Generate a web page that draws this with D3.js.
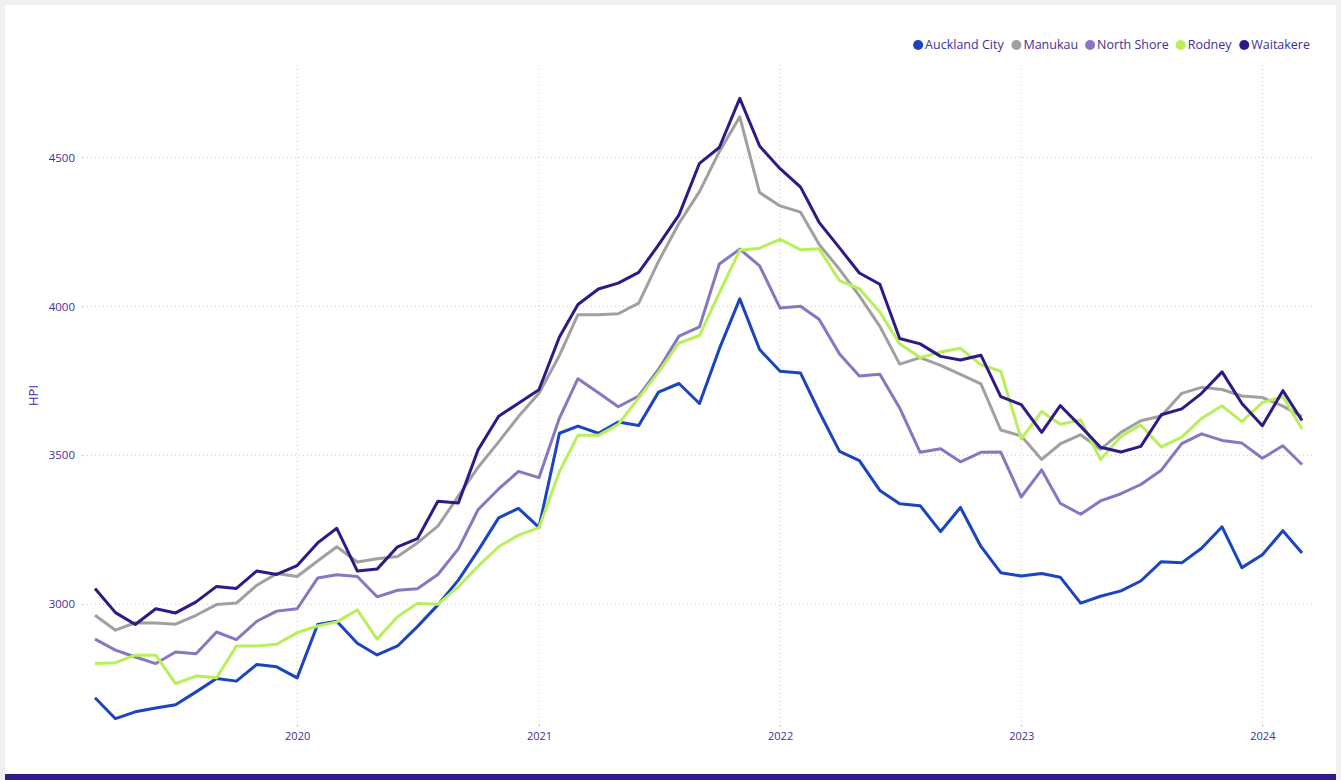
<!DOCTYPE html>
<html>
<head>
<meta charset="utf-8">
<script src="https://cdn.jsdelivr.net/npm/d3@7"></script>
<style>
  html, body { margin: 0; padding: 0; background: #f0f0f0; }
  #chart { position: absolute; left: 0; top: 0; }
  text { font-family: "Segoe UI", "Open Sans", "Noto Sans", sans-serif; }
</style>
</head>
<body>
<div id="chart"></div>
<script>
// monthly HPI, 2019-03 .. 2024-03
const startMonth = "2019-03";
const seriesNames = ["Auckland City", "Manukau", "North Shore", "Rodney", "Waitakere"];
const seriesColors = ["#1a44c0", "#a0a0a0", "#8678c0", "#b8ef5a", "#2e1a87"];
const yTicks = [3000, 3500, 4000, 4500];
const xTickYears = [2020, 2021, 2022, 2023, 2024];

const aucklandCity = [2686, 2616, 2639, 2652, 2663, 2706, 2751, 2742, 2798, 2790, 2753, 2932, 2943, 2869, 2830, 2860, 2925, 2998, 3081, 3181, 3290, 3322, 3258, 3574, 3598, 3574, 3612, 3600, 3712, 3741, 3674, 3857, 4025, 3855, 3782, 3776, 3647, 3513, 3482, 3382, 3337, 3331, 3244, 3325, 3194, 3106, 3095, 3103, 3091, 3004, 3027, 3045, 3078, 3143, 3139, 3188, 3260, 3123, 3166, 3247, 3172];
const manukau = [2963, 2913, 2938, 2937, 2933, 2963, 2999, 3004, 3064, 3103, 3093, 3145, 3193, 3142, 3153, 3160, 3206, 3262, 3363, 3460, 3545, 3630, 3708, 3835, 3972, 3972, 3975, 4011, 4151, 4279, 4385, 4519, 4636, 4382, 4337, 4316, 4208, 4124, 4035, 3933, 3806, 3828, 3802, 3772, 3740, 3585, 3565, 3486, 3538, 3569, 3520, 3577, 3616, 3632, 3708, 3728, 3721, 3699, 3694, 3665, 3630];
const northShore = [2883, 2846, 2823, 2801, 2840, 2834, 2907, 2881, 2943, 2977, 2985, 3088, 3099, 3093, 3025, 3047, 3052, 3100, 3186, 3318, 3387, 3446, 3425, 3625, 3757, 3710, 3663, 3699, 3788, 3900, 3931, 4142, 4192, 4136, 3994, 4000, 3957, 3840, 3766, 3772, 3659, 3510, 3522, 3478, 3510, 3511, 3360, 3451, 3339, 3302, 3347, 3371, 3402, 3450, 3539, 3572, 3550, 3541, 3490, 3532, 3469];
const rodney = [2801, 2804, 2829, 2829, 2734, 2759, 2753, 2860, 2860, 2866, 2905, 2927, 2941, 2981, 2883, 2958, 3003, 3000, 3059, 3128, 3193, 3232, 3257, 3445, 3567, 3567, 3604, 3693, 3779, 3877, 3902, 4045, 4188, 4195, 4225, 4190, 4193, 4086, 4059, 3981, 3874, 3828, 3847, 3859, 3804, 3782, 3555, 3647, 3604, 3619, 3486, 3563, 3602, 3528, 3561, 3624, 3666, 3613, 3677, 3697, 3588];
const waitakere = [3053, 2972, 2932, 2985, 2971, 3008, 3060, 3053, 3112, 3100, 3130, 3206, 3255, 3112, 3118, 3193, 3220, 3346, 3340, 3519, 3631, 3675, 3720, 3897, 4006, 4058, 4078, 4114, 4206, 4307, 4480, 4533, 4698, 4538, 4462, 4400, 4282, 4196, 4112, 4074, 3892, 3874, 3832, 3820, 3836, 3697, 3670, 3577, 3667, 3597, 3527, 3511, 3530, 3636, 3656, 3708, 3780, 3674, 3599, 3717, 3617];

const seriesValues = [aucklandCity, manukau, northShore, rodney, waitakere];

const W = 1341, H = 780;
const plot = { left: 83, right: 1312, top: 65, bottom: 730 };
const axisColor = "#40309a";

const start = d3.timeParse("%Y-%m")(startMonth);
const months = aucklandCity.map((_, i) => d3.timeMonth.offset(start, i));

const svg = d3.select("#chart").append("svg")
  .attr("width", W)
  .attr("height", H);

// white panel + bottom bar
svg.append("rect").attr("x", 5).attr("y", 5).attr("width", 1331).attr("height", 769).attr("fill", "#ffffff");
svg.append("rect").attr("x", 5).attr("y", 774).attr("width", 1331).attr("height", 6).attr("fill", "#311b8a");

const x = d3.scaleTime()
  .domain([months[0], months[months.length - 1]])
  .range([95, 1302]);

const y = d3.scaleLinear()
  .domain([2578, 4810])
  .range([plot.bottom, plot.top]);

// gridlines
svg.append("g")
  .selectAll("line")
  .data(yTicks)
  .join("line")
  .attr("x1", plot.left)
  .attr("x2", plot.right)
  .attr("y1", d => y(d))
  .attr("y2", d => y(d))
  .attr("stroke", "#c8c8c8")
  .attr("stroke-width", 1)
  .attr("stroke-dasharray", "1,3");

svg.append("g")
  .selectAll("line")
  .data(xTickYears)
  .join("line")
  .attr("x1", d => x(new Date(d, 0, 1)))
  .attr("x2", d => x(new Date(d, 0, 1)))
  .attr("y1", plot.top)
  .attr("y2", plot.bottom - 4)
  .attr("stroke", "#c8c8c8")
  .attr("stroke-width", 1)
  .attr("stroke-dasharray", "1,3");

// axes
const xAxis = svg.append("g")
  .attr("transform", `translate(0,${plot.bottom - 6})`)
  .call(d3.axisBottom(x)
    .tickValues(xTickYears.map(d => new Date(d, 0, 1)))
    .tickFormat(d3.timeFormat("%Y"))
    .tickSize(3)
    .tickPadding(5));
xAxis.select(".domain").remove();
xAxis.selectAll(".tick line").attr("stroke", "#d0d0d0");
xAxis.selectAll("text").attr("fill", axisColor).style("font-size", "11px");

const yAxis = svg.append("g")
  .attr("transform", `translate(${plot.left},0)`)
  .call(d3.axisLeft(y)
    .tickValues(yTicks)
    .tickFormat(d3.format("d"))
    .tickSize(2)
    .tickPadding(6));
yAxis.select(".domain").remove();
yAxis.selectAll(".tick line").attr("stroke", "#d0d0d0");
yAxis.selectAll("text").attr("fill", axisColor).style("font-size", "11.5px");

// y axis label
svg.append("text")
  .attr("transform", `translate(38,${(plot.top + plot.bottom) / 2 - 2}) rotate(-90)`)
  .attr("text-anchor", "middle")
  .attr("fill", axisColor)
  .style("font-size", "13px")
  .text("HPI");

// lines
const line = d3.line()
  .x((d, i) => x(months[i]))
  .y(d => y(d));

seriesValues.forEach((vals, k) => {
  svg.append("path")
    .datum(vals)
    .attr("fill", "none")
    .attr("stroke", seriesColors[k])
    .attr("stroke-width", 3)
    .attr("stroke-linejoin", "round")
    .attr("d", line);
});

// legend, right aligned
const legend = svg.append("g");
const items = legend.selectAll("g")
  .data(seriesNames)
  .join("g");
items.append("circle")
  .attr("r", 5)
  .attr("cy", 0)
  .attr("fill", (d, i) => seriesColors[i]);
items.append("text")
  .attr("x", 7)
  .attr("dy", "0.35em")
  .attr("fill", axisColor)
  .style("font-size", "12.5px")
  .text(d => d);

let lx = 0;
items.each(function() {
  const g = d3.select(this);
  g.attr("transform", `translate(${lx},0)`);
  lx += this.getBBox().width + 7;
});
legend.attr("transform", `translate(${1310 - lx + 7 + 5},45)`);
</script>
</body>
</html>
